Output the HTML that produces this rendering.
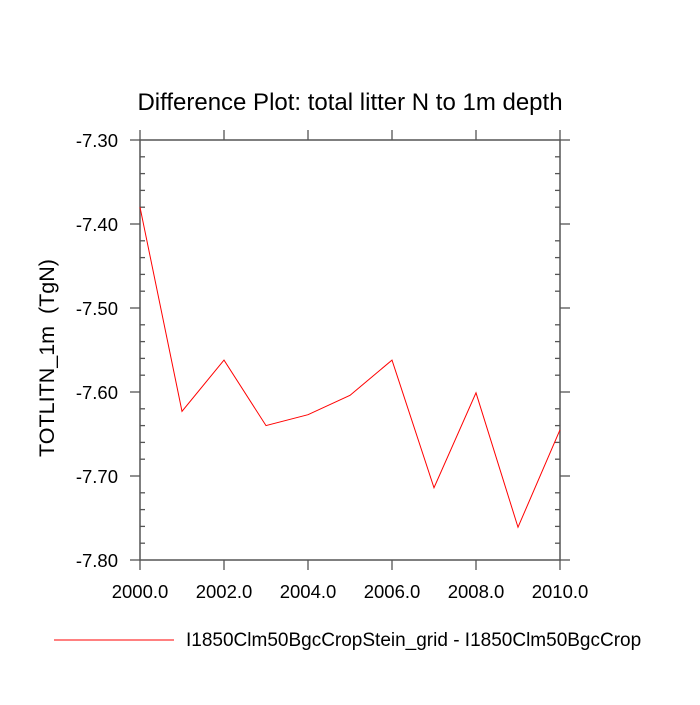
<!DOCTYPE html>
<html><head><meta charset="utf-8"><style>
body{margin:0;background:#fff;}
svg text{font-family:"Liberation Sans",Arial,sans-serif;fill:#000;}
</style></head><body>
<svg id="chart" width="700" height="700" viewBox="0 0 700 700">
<text x="350" y="110" text-anchor="middle" font-size="24">Difference Plot: total litter N to 1m depth</text>
<text transform="translate(54,358) rotate(-90)" text-anchor="middle" font-size="21.5">TOTLITN_1m&#160;&#160;(TgN)</text>
<g id="axes"></g>
<g id="series"></g>
<line x1="54" y1="640" x2="174" y2="640" stroke="#ff0000" stroke-width="1"/>
<text x="186" y="646" font-size="19">I1850Clm50BgcCropStein_grid - I1850Clm50BgcCrop</text>
</svg>
<script>
const years=[2000,2001,2002,2003,2004,2005,2006,2007,2008,2009,2010];
const values=[-7.380,-7.623,-7.562,-7.640,-7.627,-7.604,-7.562,-7.714,-7.601,-7.761,-7.645];
const xTicks=[2000,2002,2004,2006,2008,2010];
const xTickLabels=["2000.0","2002.0","2004.0","2006.0","2008.0","2010.0"];
const yTicks=[-7.30,-7.40,-7.50,-7.60,-7.70,-7.80];
const yTickLabels=["-7.30","-7.40","-7.50","-7.60","-7.70","-7.80"];
const L=140,R=560,T=140,B=560;
const xs=v=>L+(v-2000)/10*(R-L);
const ys=v=>T+(-7.30-v)/0.5*(B-T);
const NS="http://www.w3.org/2000/svg";
const ax=document.getElementById('axes');
function ln(x1,y1,x2,y2,w){const l=document.createElementNS(NS,'line');l.setAttribute('x1',x1);l.setAttribute('y1',y1);l.setAttribute('x2',x2);l.setAttribute('y2',y2);l.setAttribute('stroke','#555');l.setAttribute('stroke-width',w||1.3);ax.appendChild(l);return l;}
const fr=document.createElementNS(NS,'rect');
fr.setAttribute('x',L);fr.setAttribute('y',T);fr.setAttribute('width',R-L);fr.setAttribute('height',B-T);
fr.setAttribute('fill','none');fr.setAttribute('stroke','#555');fr.setAttribute('stroke-width',1.5);


ax.appendChild(fr);
for(let i=0;i<=25;i++){const y=T+i*(B-T)/25;if(i%5){ln(L,y,L+5,y);ln(R,y,R-5,y);}}
yTicks.forEach((v,i)=>{const y=ys(v);ln(L-10,y,L,y);ln(R,y,R+10,y);
const t=document.createElementNS(NS,'text');t.setAttribute('x',L-22);t.setAttribute('y',y+7);t.setAttribute('text-anchor','end');t.setAttribute('font-size','18.5');t.textContent=yTickLabels[i];


ax.appendChild(t);});
xTicks.forEach((v,i)=>{const x=xs(v);ln(x,B,x,B+10);ln(x,T,x,T-10);
const t=document.createElementNS(NS,'text');t.setAttribute('x',x);t.setAttribute('y',B+38);t.setAttribute('text-anchor','middle');t.setAttribute('font-size','18.5');t.textContent=xTickLabels[i];


ax.appendChild(t);});
const p=document.createElementNS(NS,'polyline');
p.setAttribute('points',years.map((y,i)=>xs(y)+','+ys(values[i])).join(' '));
p.setAttribute('fill','none');p.setAttribute('stroke','#ff0000');p.setAttribute('stroke-width','1');


document.getElementById('series').appendChild(p);
</script>
</body></html>
